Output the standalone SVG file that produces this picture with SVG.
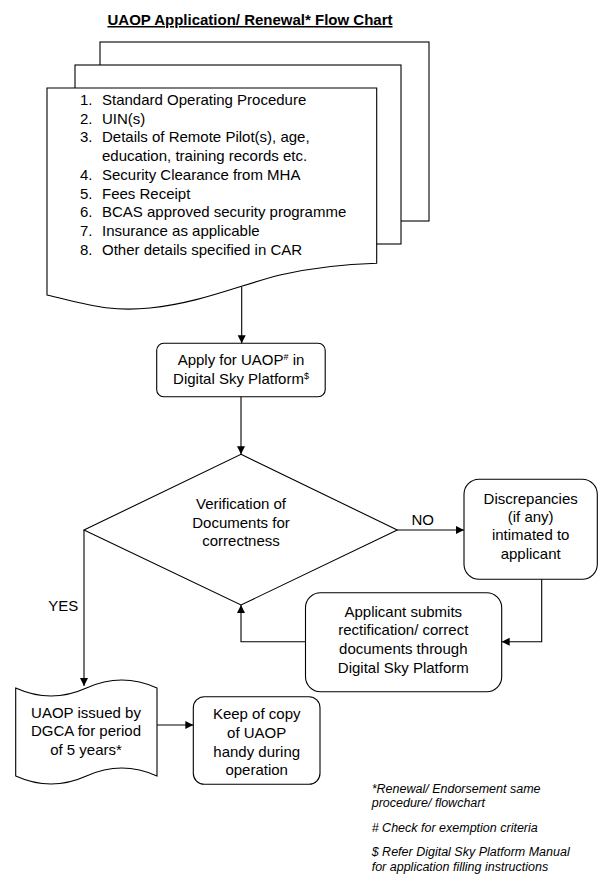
<svg xmlns="http://www.w3.org/2000/svg" width="606" height="882" viewBox="0 0 606 882">
<style>
.shape{fill:#fff;stroke:#000;stroke-width:1.1}
.t{font-family:"Liberation Sans",Arial,sans-serif;font-size:15px;fill:#000}
.c{text-anchor:middle}
.fn{font-family:"Liberation Sans",Arial,sans-serif;font-size:12.5px;font-style:italic;fill:#000}
.conn path{fill:none;stroke:#000;stroke-width:1.1}
.sup{font-size:9px}
</style>
<defs>
<marker id="arr" markerUnits="userSpaceOnUse" markerWidth="9" markerHeight="9" refX="8" refY="4" orient="auto">
<path d="M0,0 L8,4 L0,8 z" fill="#000"/>
</marker>
</defs>
<rect width="606" height="882" fill="#fff"/>
<g id="title">
<text x="250" y="25" class="t c" style="font-weight:bold;text-decoration:underline">UAOP Application/ Renewal* Flow Chart</text>
</g>
<g id="documents">
<rect class="shape" x="100" y="42" width="329" height="179"/>
<rect class="shape" x="75" y="65" width="326" height="179"/>
<path class="shape" d="M47,88 H376.7 V263.3 C350,264 320,266 280,275 C240,285 200,303 150,308 C110,312 90,305 47,295 Z"/>
<text class="t" x="80" y="105">1.</text><text class="t" x="102" y="105">Standard Operating Procedure</text>
<text class="t" x="80" y="123.7">2.</text><text class="t" x="102" y="123.7">UIN(s)</text>
<text class="t" x="80" y="142.4">3.</text><text class="t" x="102" y="142.4">Details of Remote Pilot(s), age,</text>
<text class="t" x="102" y="161.1">education, training records etc.</text>
<text class="t" x="80" y="179.8">4.</text><text class="t" x="102" y="179.8">Security Clearance from MHA</text>
<text class="t" x="80" y="198.5">5.</text><text class="t" x="102" y="198.5">Fees Receipt</text>
<text class="t" x="80" y="217.2">6.</text><text class="t" x="102" y="217.2">BCAS approved security programme</text>
<text class="t" x="80" y="235.9">7.</text><text class="t" x="102" y="235.9">Insurance as applicable</text>
<text class="t" x="80" y="254.6">8.</text><text class="t" x="102" y="254.6">Other details specified in CAR</text>
</g>
<g id="apply">
<rect class="shape" x="156.7" y="343.3" width="168.5" height="53.4" rx="7"/>
<text class="t c" x="241" y="364.6">Apply for UAOP<tspan class="sup" dy="-5">#</tspan><tspan dy="5"> in</tspan></text>
<text class="t c" x="241" y="383.6">Digital Sky Platform<tspan class="sup" dy="-5">$</tspan></text>
</g>
<g id="verification">
<path class="shape" d="M241,454.3 L397.3,530 L241,605 L84,530 Z"/>
<text class="t c" x="241" y="509.3">Verification of</text>
<text class="t c" x="241" y="527.6">Documents for</text>
<text class="t c" x="241" y="546">correctness</text>
</g>
<g id="discrepancies">
<rect class="shape" x="464" y="479.3" width="133.3" height="100" rx="15"/>
<text class="t c" x="530.7" y="503.6">Discrepancies</text>
<text class="t c" x="530.7" y="522">(if any)</text>
<text class="t c" x="530.7" y="540.3">intimated to</text>
<text class="t c" x="530.7" y="558.6">applicant</text>
</g>
<g id="applicant">
<rect class="shape" x="305.5" y="592.7" width="196.2" height="99" rx="15"/>
<text class="t c" x="403.3" y="617">Applicant submits</text>
<text class="t c" x="403.3" y="635.3">rectification/ correct</text>
<text class="t c" x="403.3" y="654.3">documents through</text>
<text class="t c" x="403.3" y="672.6">Digital Sky Platform</text>
</g>
<g id="issued">
<path class="shape" d="M15.7,688 Q51,704 86.4,688 T157,688 V776 Q121.8,760 86.4,776 T15.7,776 Z"/>
<text class="t c" x="86" y="717.6">UAOP issued by</text>
<text class="t c" x="86" y="736.3">DGCA for period</text>
<text class="t c" x="86" y="755.3">of 5 years*</text>
</g>
<g id="keep">
<rect class="shape" x="193.3" y="696.7" width="126.7" height="87.6" rx="11"/>
<text class="t c" x="256.7" y="719.3">Keep of copy</text>
<text class="t c" x="256.7" y="738">of UAOP</text>
<text class="t c" x="256.7" y="757">handy during</text>
<text class="t c" x="256.7" y="775.3">operation</text>
</g>
<g id="connectors" class="conn">
<path d="M241.7,287 V343.3" marker-end="url(#arr)"/>
<path d="M241,396.7 V454.3" marker-end="url(#arr)"/>
<path d="M397.3,530 H464" marker-end="url(#arr)"/>
<path d="M541.7,579.3 V641.7 H501.7" marker-end="url(#arr)"/>
<path d="M305.5,641.7 H241 V605" marker-end="url(#arr)"/>
<path d="M84,530 V686" marker-end="url(#arr)"/>
<path d="M157,725 H193.3" marker-end="url(#arr)"/>
<text class="t c" x="422.7" y="524.6">NO</text>
<text class="t c" x="63.3" y="611.3">YES</text>
</g>
<g id="footnotes">
<text class="fn" x="371.7" y="793.4">*Renewal/ Endorsement same</text>
<text class="fn" x="371.7" y="807.3">procedure/ flowchart</text>
<text class="fn" x="371.7" y="832"># Check for exemption criteria</text>
<text class="fn" x="371.7" y="856">$ Refer Digital Sky Platform Manual</text>
<text class="fn" x="371.7" y="870.8">for application filling instructions</text>
</g>
</svg>
